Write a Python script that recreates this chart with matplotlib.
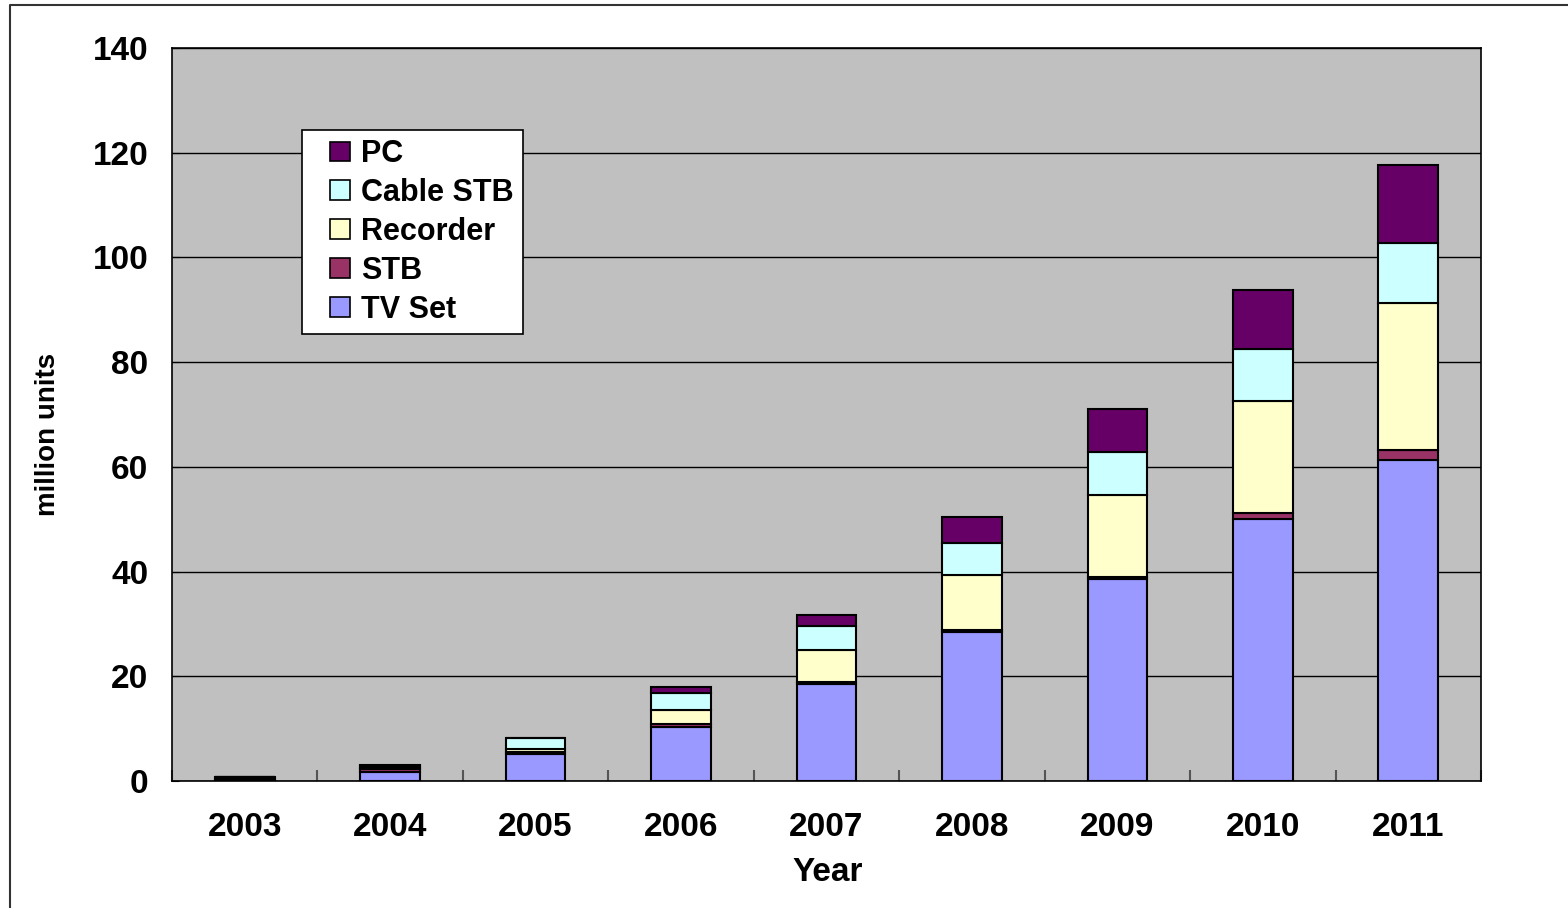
import numpy as np
import matplotlib.pyplot as plt
from matplotlib.lines import Line2D
from matplotlib.patches import Rectangle
from matplotlib.legend_handler import HandlerPatch
from matplotlib.ticker import MultipleLocator

plt.rcParams['font.family'] = ['Liberation Sans', 'DejaVu Sans']
plt.rcParams['font.weight'] = 'bold'

# data (million units)
years = ['2003', '2004', '2005', '2006', '2007', '2008', '2009', '2010', '2011']
tv_set = [0.3, 1.7, 5.1, 10.4, 18.5, 28.5, 38.6, 50.0, 61.3]
stb = [0.4, 0.5, 0.4, 0.5, 0.4, 0.4, 0.4, 1.2, 1.9]
recorder = [0.05, 0.2, 0.6, 2.6, 6.1, 10.4, 15.6, 21.4, 28.1]
cable_stb = [0.05, 0.5, 2.2, 3.4, 4.6, 6.2, 8.2, 9.9, 11.4]
pc = [0.0, 0.1, 0.0, 1.0, 2.1, 4.9, 8.2, 11.3, 14.9]

series = [('TV Set', tv_set, '#9999FF'),
          ('STB', stb, '#993366'),
          ('Recorder', recorder, '#FFFFCC'),
          ('Cable STB', cable_stb, '#CCFFFF'),
          ('PC', pc, '#660066')]

fig = plt.figure(figsize=(15.68, 9.08), dpi=100)
ax = fig.add_axes([172/1568, 1-781/908, 1309/1568, 733/908])
ax.set_facecolor('#C0C0C0')

x = np.arange(len(years))
bottom = np.zeros(len(years))
for name, vals, col in series:
    vals = np.array(vals)
    ax.bar(x, vals, width=0.41, bottom=bottom, color=col,
           edgecolor='black', linewidth=1.5, label=name, zorder=3)
    bottom += vals

ax.set_xlim(-0.5, len(years) - 0.5)
ax.set_ylim(0, 140)
ax.yaxis.set_major_locator(MultipleLocator(20))
ax.grid(axis='y', color='black', linewidth=1, zorder=1)
ax.set_axisbelow(True)

ax.set_xticks(x)
ax.set_xticklabels(years)
ax.set_xticks(np.arange(len(years) + 1) - 0.5, minor=True)
ax.tick_params(axis='x', which='major', length=0, pad=22, labelsize=24)
ax.tick_params(axis='x', which='minor', direction='in', length=8,
               color='#555555', width=1.5)
ax.tick_params(axis='y', direction='in', length=5, pad=17, labelsize=24)

for s in ax.spines.values():
    s.set_linewidth(1.2)
    s.set_color('black')

ax.set_xlabel('Year', fontsize=24, fontweight='bold')
ax.xaxis.set_label_coords(0.501, -0.104)
ax.set_ylabel('million units', fontsize=20, fontweight='bold')
ax.yaxis.label.set_va('center')
ax.yaxis.set_label_coords(-0.0947, 0.473)


# square legend keys drawn at the right end of the handle box
def square_key(legend, orig_handle, xdescent, ydescent, width, height, fontsize):
    return Rectangle((-xdescent + width - height, -ydescent), height, height)


proxies = [Rectangle((0, 0), 1, 1, facecolor=col, edgecolor='black', linewidth=1.2)
           for name, vals, col in series][::-1]
labels = [name for name, vals, col in series][::-1]
leg = ax.legend(proxies, labels,
                loc='upper left', bbox_to_anchor=(0.0993, 0.888),
                borderaxespad=0, fancybox=False, framealpha=1,
                edgecolor='black', handlelength=1.27,
                handleheight=0.62, handletextpad=0.36, labelspacing=0.29,
                borderpad=0.3, prop={'weight': 'bold', 'size': 22},
                handler_map={Rectangle: HandlerPatch(patch_func=square_key)})
leg.get_frame().set_linewidth(1.2)
leg.set_zorder(5)

# outer chart frame
fx = 10 / 1568
fy = 1 - 5 / 908
fig.add_artist(Line2D([fx, fx, 1], [0, fy, fy], transform=fig.transFigure,
                      color='#333333', linewidth=1.5))

fig.savefig('out.png', dpi=100)
